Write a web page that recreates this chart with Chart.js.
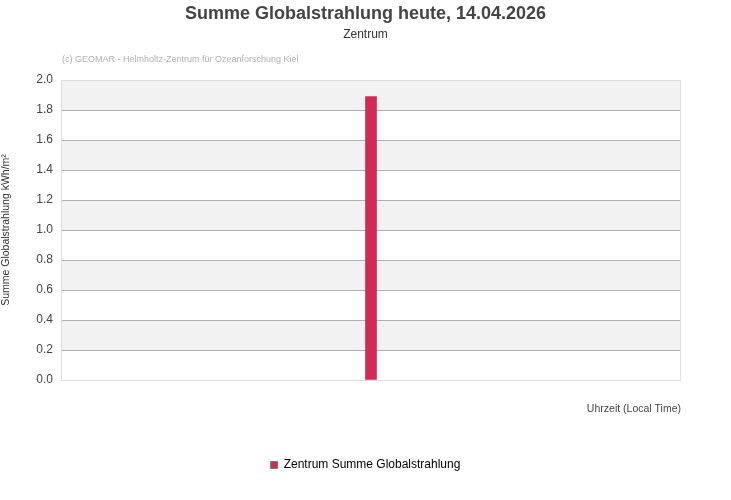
<!DOCTYPE html>
<html>
<head>
<meta charset="utf-8">
<script src="https://cdn.jsdelivr.net/npm/chart.js@4"></script>
<style>
  html, body { margin: 0; padding: 0; background: #fff; }
  #wrap { width: 731px; height: 500px; }
</style>
</head>
<body>
<div id="wrap"><canvas id="myBar"></canvas></div>
<script>
// data
var categories = [''];
var values = [1.89];
var seriesName = 'Zentrum Summe Globalstrahlung';
var yTicks = [0, 0.2, 0.4, 0.6, 0.8, 1.0, 1.2, 1.4, 1.6, 1.8, 2.0];

Chart.defaults.font.family = '"Liberation Sans", Arial, sans-serif';

// alternating grey bands + light frame round the plot
var bands = {
  id: 'bands',
  beforeDraw: function (chart) {
    var ctx = chart.ctx, a = chart.chartArea, y = chart.scales.y;
    ctx.save();
    ctx.fillStyle = '#f2f2f2';
    for (var i = 1; i < yTicks.length; i += 2) {
      var top = y.getPixelForValue(yTicks[i + 1] !== undefined ? yTicks[i + 1] : yTicks[i]);
      var bot = y.getPixelForValue(yTicks[i]);
      ctx.fillRect(a.left, top, a.right - a.left, bot - top);
    }
    ctx.restore();
  },
  afterDraw: function (chart) {
    var ctx = chart.ctx, a = chart.chartArea;
    ctx.save();
    ctx.strokeStyle = '#dddddd';
    ctx.lineWidth = 1;
    ctx.strokeRect(a.left + 0.5, a.top + 0.5, a.right - a.left - 1, a.bottom - a.top);
    ctx.font = '9px "Liberation Sans", Arial, sans-serif';
    ctx.fillStyle = '#b0b0b0';
    ctx.textBaseline = 'middle';
    ctx.fillText('(c) GEOMAR - Helmholtz-Zentrum f\u00fcr Ozeanforschung Kiel', 62, 60);
    ctx.restore();
  }
};

var ctx = document.getElementById('myBar').getContext('2d');
var myChart = new Chart(ctx, {
  type: 'bar',
  data: {
    labels: categories,
    datasets: [{
      label: seriesName,
      data: values,
      backgroundColor: '#d12a57',
      borderWidth: 0,
      barThickness: 11
    }]
  },
  options: {
    responsive: true,
    maintainAspectRatio: false,
    animation: false,
    layout: { padding: { left: 0, right: 0, top: 0, bottom: 19 } },
    plugins: {
      title: {
        display: true,
        text: 'Summe Globalstrahlung heute, 14.04.2026',
        color: '#444',
        font: { size: 18, weight: 'bold' },
        padding: { top: 3, bottom: 3 }
      },
      subtitle: {
        display: true,
        text: 'Zentrum',
        color: '#333',
        font: { size: 12 },
        padding: { top: 0, bottom: 38 }
      },
      legend: {
        position: 'bottom',
        labels: {
          color: '#222',
          font: { size: 12 },
          boxWidth: 7,
          boxHeight: 7,
          padding: 10,
          generateLabels: function (chart) {
            return [{
              text: seriesName,
              fillStyle: '#d12a57',
              strokeStyle: '#777',
              lineWidth: 1,
              datasetIndex: 0
            }];
          }
        }
      },
      tooltip: { enabled: false }
    },
    scales: {
      x: {
        grid: { display: false },
        border: { display: false },
        ticks: { display: false },
        title: {
          display: true,
          text: 'Uhrzeit (Local Time)',
          align: 'end',
          color: '#444',
          font: { size: 10.5 },
          padding: { top: 0, bottom: 34 }
        },
        afterFit: function (axis) { axis.height = 69; }
      },
      y: {
        min: 0,
        max: 2,
        afterBuildTicks: function (axis) {
          axis.ticks = yTicks.map(function (v) { return { value: v }; });
        },
        border: { display: false },
        grid: {
          color: function (c) {
            if (c.tick && (c.tick.value === 0 || c.tick.value === 2)) return '#dddddd';
            return '#b0b0b0';
          },
          drawTicks: false
        },
        ticks: {
          color: '#444',
          font: { size: 12 },
          padding: 8,
          callback: function (v) { return Number(v).toFixed(1); }
        },
        title: {
          display: true,
          text: 'Summe Globalstrahlung kWh/m\u00b2',
          color: '#333',
          font: { size: 10.5 },
          padding: { top: 0, bottom: 0 }
        },
        afterFit: function (axis) { axis.width = 61; }
      },
      // empty right-hand axis, only keeps room on the right
      yR: {
        position: 'right',
        display: true,
        grid: { display: false },
        border: { display: false },
        ticks: { display: false },
        afterFit: function (axis) { axis.width = 50; }
      }
    }
  },
  plugins: [bands]
});
</script>
</body>
</html>
